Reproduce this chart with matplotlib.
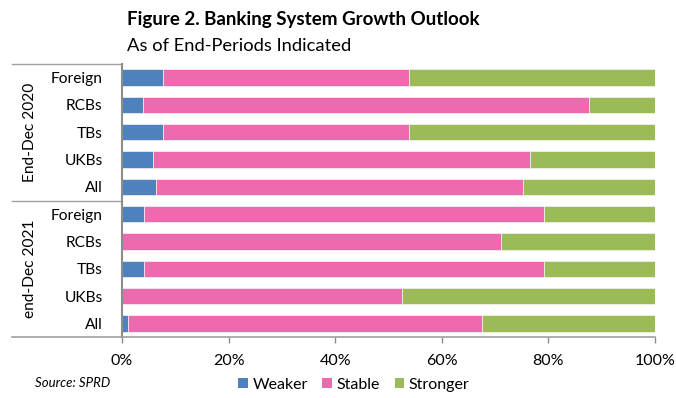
import numpy as np
import matplotlib.pyplot as plt
from matplotlib.lines import Line2D
from matplotlib.patches import Patch

plt.rcParams['font.family'] = ['Lato', 'DejaVu Sans']

# categories, top to bottom
banks = ['Foreign', 'RCBs', 'TBs', 'UKBs', 'All']
groups = ['End-Dec 2020', 'end-Dec 2021']

# shares in percent, order follows banks
weaker_2020 = [7.7, 4.0, 7.7, 5.9, 6.3]
stable_2020 = [46.2, 83.7, 46.2, 70.6, 68.9]
stronger_2020 = [46.1, 12.3, 46.1, 23.5, 24.8]

weaker_2021 = [4.2, 0.0, 4.2, 0.0, 1.2]
stable_2021 = [75.0, 71.2, 75.0, 52.6, 66.3]
stronger_2021 = [20.8, 28.8, 20.8, 47.4, 32.5]

series = ['Weaker', 'Stable', 'Stronger']
colors = ['#4f81bd', '#ee6aae', '#9bbb59']

weaker = np.array(weaker_2020 + weaker_2021)
stable = np.array(stable_2020 + stable_2021)
stronger = np.array(stronger_2020 + stronger_2021)

fig = plt.figure(figsize=(6.76, 3.98), dpi=100)
W, H = 676, 398
ax = fig.add_axes([122 / W, (H - 337) / H, 533 / W, 273 / H])

y = np.arange(10)
left = np.zeros(10)
for vals, c in zip([weaker, stable, stronger], colors):
    ax.barh(y, vals, left=left, height=0.6, color=c, edgecolor='#f4f4f4', linewidth=0.5)
    left = left + vals

ax.set_xlim(0, 100)
ax.set_ylim(9.5, -0.5)
ax.set_xticks(np.arange(0, 101, 20))
ax.set_xticklabels([f'{v}%' for v in range(0, 101, 20)], fontsize=11.5)
ax.set_yticks(y)
ax.set_yticklabels(banks * 2, fontsize=11.2)
ax.tick_params(axis='y', length=0, pad=14)
ax.tick_params(axis='x', length=4, width=1, color='#8c8c8c', pad=8)

for s in ['top', 'right']:
    ax.spines[s].set_visible(False)
ax.spines['left'].set_color('#8c8c8c')
ax.spines['left'].set_linewidth(1.5)
ax.spines['bottom'].set_color('#a0a0a0')
ax.spines['bottom'].set_linewidth(1.2)

# multi-level category box on the left
x0 = -110 / 533
for yy, lw in [(1.0, 1.0), (0.5, 1.0), (0.0, 1.2)]:
    ax.add_line(Line2D([x0, 0], [yy, yy], transform=ax.transAxes,
                       color='#a0a0a0', lw=lw, clip_on=False))

tr = ax.get_yaxis_transform()
ax.text(-92 / 533, 2, groups[0], transform=tr, rotation=90,
        ha='center', va='center', fontsize=11.2)
ax.text(-92 / 533, 7, groups[1], transform=tr, rotation=90,
        ha='center', va='center', fontsize=11.2)

fig.text(127 / W, 1 - 20 / H, 'Figure 2. Banking System Growth Outlook',
         fontsize=13.5, fontweight='bold', va='center')
fig.text(127 / W, 1 - 46 / H, 'As of End-Periods Indicated',
         fontsize=13.2, va='center')
fig.text(35 / W, 1 - 383 / H, 'Source: SPRD', fontsize=9.5,
         style='italic', va='center')

handles = [Patch(facecolor=c, edgecolor='none') for c in colors]
fig.legend(handles, series, loc='center', bbox_to_anchor=(354 / W, 1 - 385 / H),
           ncol=3, frameon=False, fontsize=11.5, handlelength=0.6,
           handleheight=0.6, handletextpad=0.3, columnspacing=0.9)

fig.savefig('out.png', dpi=100)
